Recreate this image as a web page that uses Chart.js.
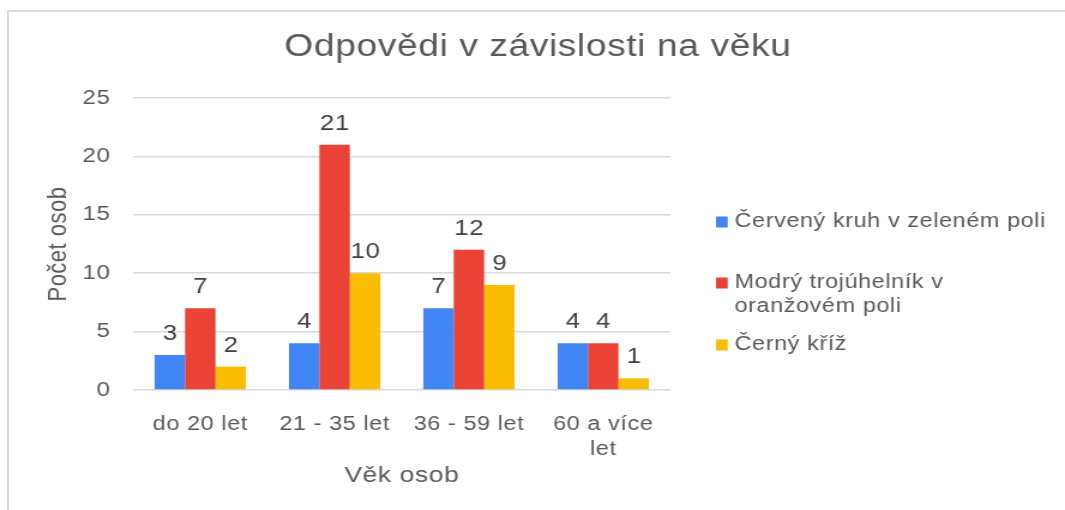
<!DOCTYPE html>
<html>
<head>
<meta charset="utf-8">
<title>Odpovědi v závislosti na věku</title>
<script src="https://cdn.jsdelivr.net/npm/chart.js@4.4.1/dist/chart.umd.min.js"></script>
<style>
  body { margin: 0; background: #fff; }
  #wrap { position: relative; width: 1065px; height: 510px; overflow: hidden; }
  #frame { position: absolute; left: 7px; top: 10px; width: 1100px; height: 600px; border: 2px solid #d9d9d9; box-sizing: border-box; }
  /* the source picture is a chart widened by about 1.2 horizontally */
  #chart { position: absolute; left: 0; top: 0; transform: scaleX(1.1993); transform-origin: 0 0; }
</style>
</head>
<body>
<div id="wrap">
  <div id="frame"></div>
  <canvas id="chart" width="888" height="510"></canvas>
</div>
<script>
const categories = ['do 20 let', '21 - 35 let', '36 - 59 let', ['60 a více', 'let']];
const seriesNames = ['Červený kruh v zeleném poli', 'Modrý trojúhelník v oranžovém poli', 'Černý kříž'];
const redCircle = [3, 4, 7, 4];
const blueTriangle = [7, 21, 12, 4];
const blackCross = [2, 10, 9, 1];
const yTicks = [0, 5, 10, 15, 20, 25];

const colors = ['#4285F4', '#EA4335', '#FBBC04'];
const textColor = '#595959';
const family = "'Liberation Sans', Arial, sans-serif";
Chart.defaults.font.family = family;

const spacing = '0.5px';
const textStyle = {
    id: 'textStyle',
    beforeUpdate(chart) { chart.ctx.letterSpacing = spacing; },
    beforeDraw(chart) { chart.ctx.letterSpacing = spacing; }
};

// value on top of each bar
const barValues = {
    id: 'barValues',
    afterDatasetsDraw(chart) {
        const ctx = chart.ctx;
        ctx.save();
        ctx.font = '21.5px ' + family;
        ctx.fillStyle = '#404040';
        ctx.textAlign = 'center';
        ctx.textBaseline = 'alphabetic';
        chart.data.datasets.forEach((ds, i) => {
            chart.getDatasetMeta(i).data.forEach((bar, j) => {
                ctx.fillText(String(ds.data[j]), bar.x + 0.25, bar.y - 15);
            });
        });
        ctx.restore();
    }
};

// title and legend placed like the original
const chartTitle = {
    id: 'chartTitle',
    afterDraw(chart) {
        const ctx = chart.ctx;
        ctx.save();
        ctx.font = '31px ' + family;
        ctx.fillStyle = textColor;
        ctx.textAlign = 'center';
        ctx.textBaseline = 'middle';
        ctx.fillText('Odpovědi v závislosti na věku', 448.5, 47);
        ctx.restore();
    }
};

const sideLegend = {
    id: 'sideLegend',
    afterDraw(chart) {
        const ctx = chart.ctx;
        const rowY = [222, 283, 345];
        ctx.save();
        ctx.font = '19.5px ' + family;
        ctx.textBaseline = 'middle';
        ctx.textAlign = 'left';
        chart.data.datasets.forEach((ds, i) => {
            const words = ds.label.split(' ');
            const lines = [];
            let line = '';
            words.forEach(w => {
                const test = line ? line + ' ' + w : w;
                if (line && ctx.measureText(test).width > 267) {
                    lines.push(line);
                    line = w;
                } else {
                    line = test;
                }
            });
            lines.push(line);
            ctx.fillStyle = ds.backgroundColor;
            ctx.fillRect(597, rowY[i] - 5.5, 9.75, 11);
            ctx.fillStyle = textColor;
            lines.forEach((l, k) => ctx.fillText(l, 612.5, rowY[i] + k * 24));
        });
        ctx.restore();
    }
};

new Chart(document.getElementById('chart'), {
    type: 'bar',
    data: {
        labels: categories,
        datasets: [
            { label: seriesNames[0], data: redCircle, backgroundColor: colors[0] },
            { label: seriesNames[1], data: blueTriangle, backgroundColor: colors[1] },
            { label: seriesNames[2], data: blackCross, backgroundColor: colors[2] }
        ]
    },
    options: {
        responsive: false,
        animation: false,
        categoryPercentage: 0.68,
        barPercentage: 1,
        layout: { padding: { left: 0, right: 329, top: 98, bottom: 0 } },
        plugins: {
            legend: { display: false },
            title: { display: false },
            tooltip: { enabled: false }
        },
        scales: {
            x: {
                grid: { display: false },
                border: { display: false },
                ticks: {
                    color: textColor,
                    font: { size: 19.5, lineHeight: 1.27 },
                    padding: 14,
                    maxRotation: 0,
                    autoSkip: false
                },
                title: {
                    display: true,
                    text: 'Věk osob',
                    color: textColor,
                    font: { size: 22 },
                    padding: { top: 0, bottom: 21 }
                },
                afterFit(scale) { scale.height = 120; }
            },
            y: {
                min: yTicks[0],
                max: yTicks[yTicks.length - 1],
                afterBuildTicks(scale) { scale.ticks = yTicks.map(v => ({ value: v })); },
                ticks: {
                    color: textColor,
                    font: { size: 20 },
                    padding: 19
                },
                grid: { color: '#d9d9d9', lineWidth: 1.5, drawTicks: false },
                border: { display: false },
                title: {
                    display: true,
                    text: 'Počet osob',
                    color: textColor,
                    font: { size: 22 },
                    padding: { top: 36, bottom: 0 }
                },
                afterFit(scale) { scale.width = 111; }
            }
        }
    },
    plugins: [textStyle, barValues, chartTitle, sideLegend]
});
</script>
</body>
</html>
